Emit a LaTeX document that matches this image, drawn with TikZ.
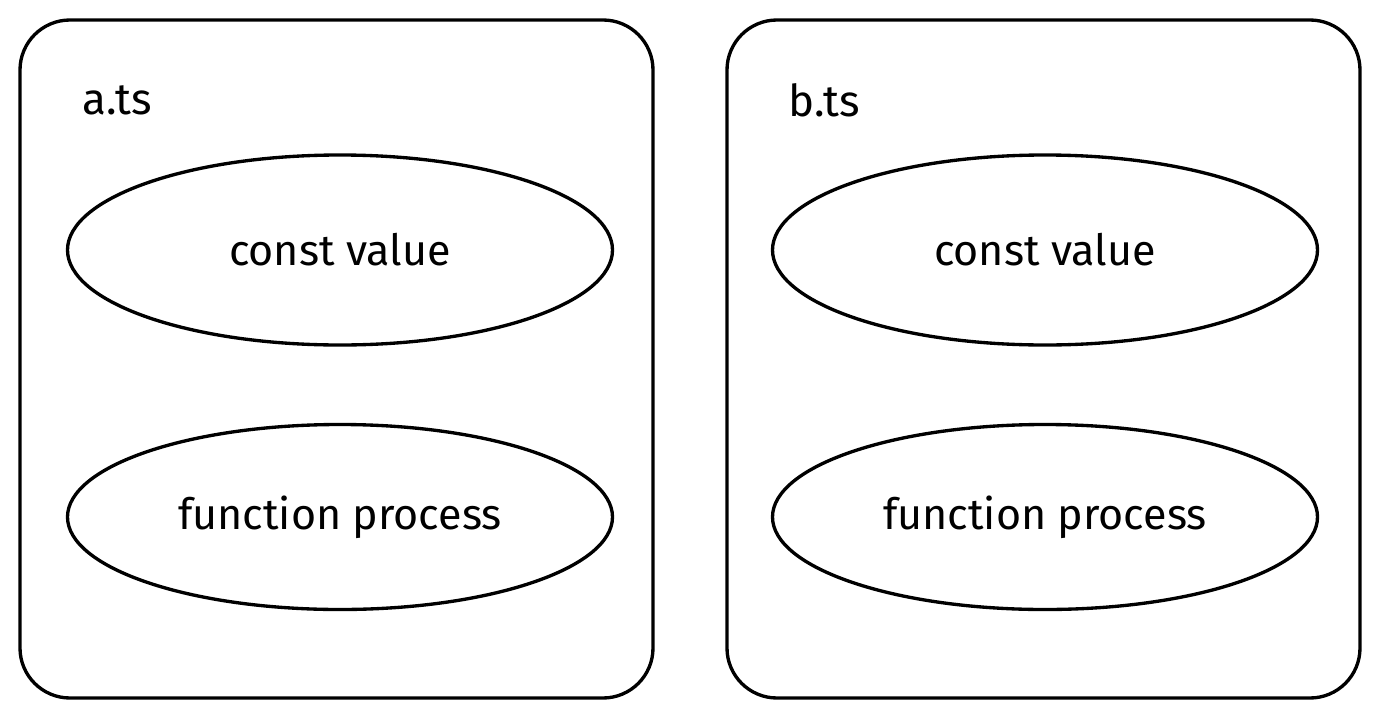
\documentclass[tikz,border=0pt]{standalone}
\usepackage{fontspec}
\setmainfont{Fira Sans}
\usepackage{tikz}
\usetikzlibrary{shapes.geometric, positioning}

\begin{document}
\begin{tikzpicture}[
    file/.style={rectangle, draw, line width=1.9pt, rounded corners=1cm, minimum width=12.66cm, minimum height=13.56cm},
    unit/.style={ellipse, draw, line width=1.9pt, inner sep=0pt, minimum width=10.9cm, minimum height=3.8cm, font=\fontsize{24.5}{28}\selectfont},
    fname/.style={anchor=west, inner sep=0pt, font=\fontsize{25}{29}\selectfont}
]
\useasboundingbox (0,0) rectangle (27.56,-14.4);

% files
\node[file] (afile) at (6.73,-7.18) {};
\node[file] (bfile) at (20.87,-7.18) {};

\node[fname] (aname) at (1.64,-2.0) {a.ts};
\node[fname] (bname) at (15.76,-2.0) {b.ts};

% members
\node[unit] (aconst) at (6.8,-5.0) {const value};
\node[unit, minimum height=3.7cm] (afunc) at (6.8,-10.34) {function process};
\node[unit] (bconst) at (20.9,-5.0) {const value};
\node[unit, minimum height=3.7cm] (bfunc) at (20.9,-10.34) {function process};
\end{tikzpicture}
\end{document}
